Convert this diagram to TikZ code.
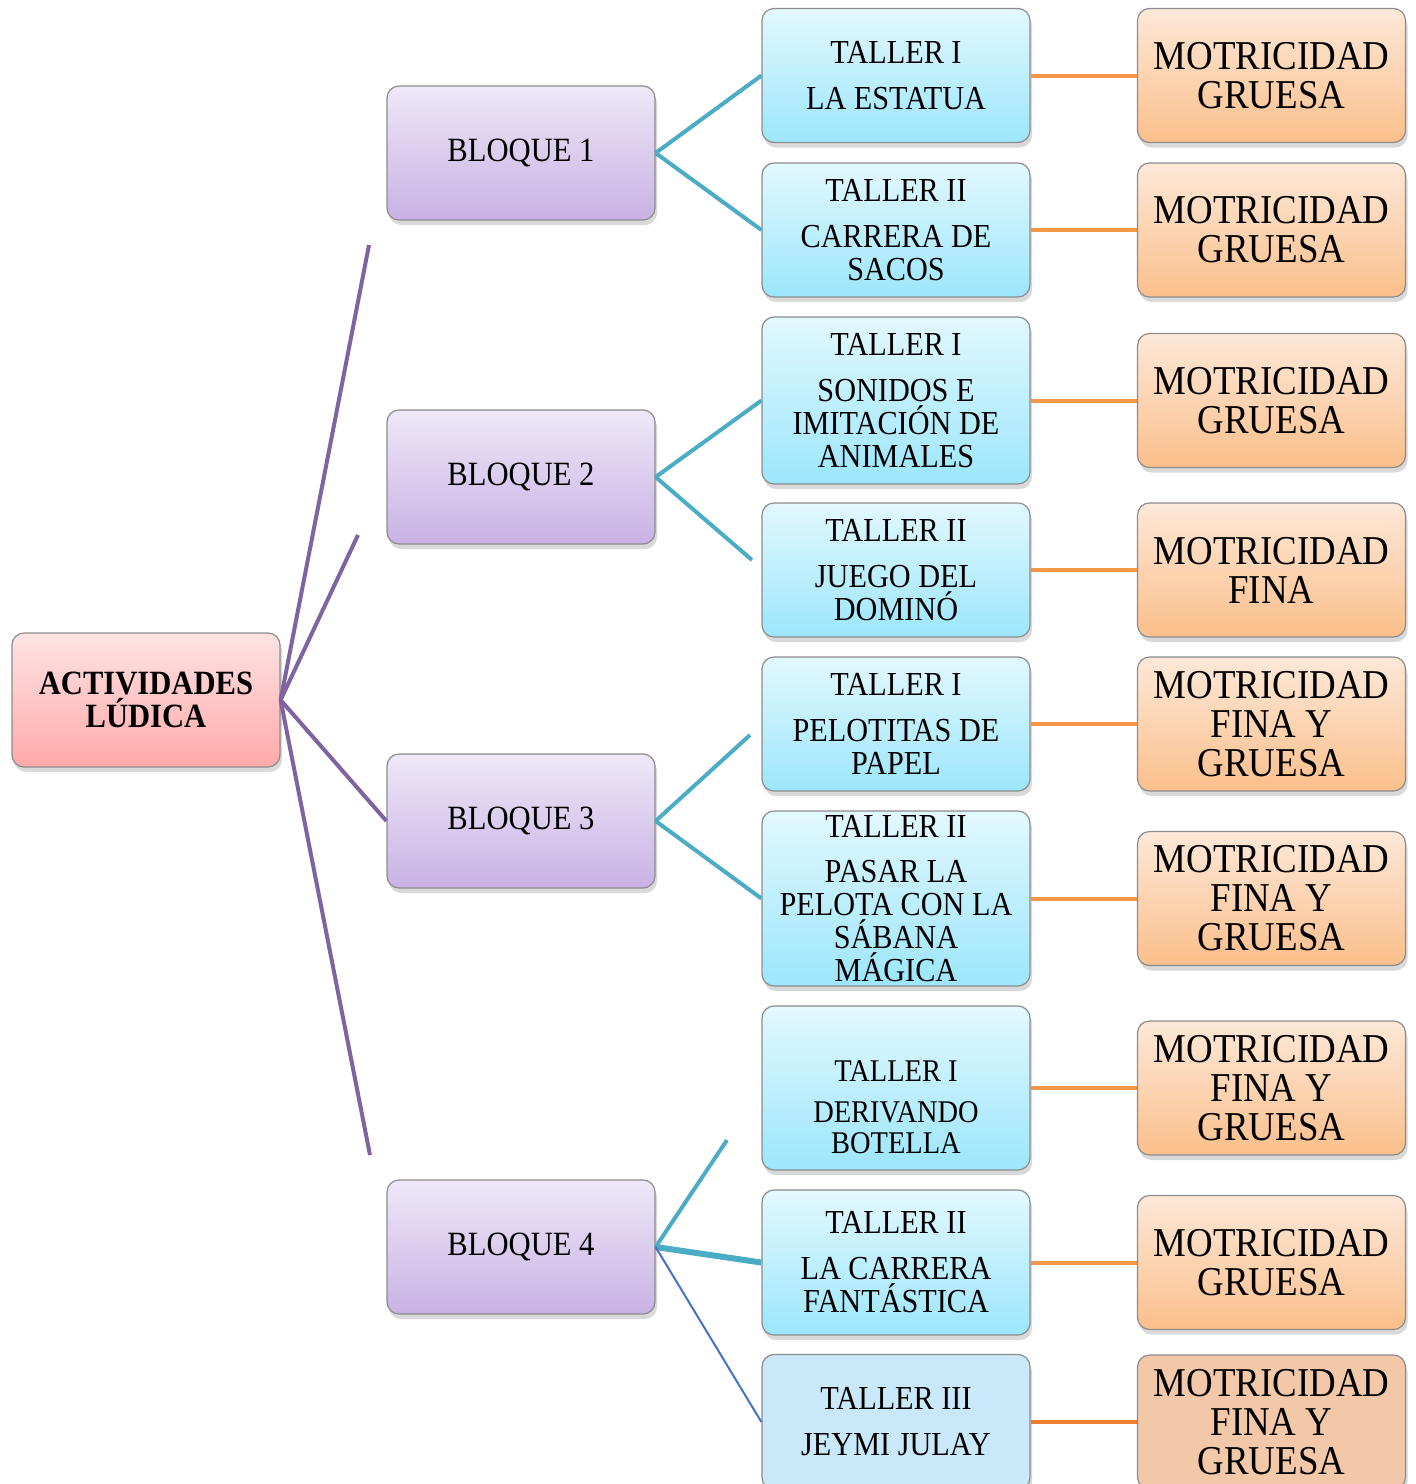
\documentclass[tikz,border=0pt]{standalone}
\usepackage{fontspec}
\setmainfont[FakeStretch=0.9]{Liberation Serif}
\usetikzlibrary{shadows}

\definecolor{raizA}{HTML}{FFE3E3}
\definecolor{raizB}{HTML}{FFA9A9}
\definecolor{bloqA}{HTML}{EEE8F8}
\definecolor{bloqB}{HTML}{C8B2E4}
\definecolor{tallA}{HTML}{E2F8FE}
\definecolor{tallB}{HTML}{9CE6FC}
\definecolor{tallC}{HTML}{C9E9FB}
\definecolor{motrA}{HTML}{FDE8D8}
\definecolor{motrB}{HTML}{FBBF8B}
\definecolor{motrC}{HTML}{F3C8A8}
\definecolor{lila}{HTML}{8064A2}
\definecolor{turq}{HTML}{4BACC6}
\definecolor{naranja}{HTML}{F79646}
\definecolor{naranjaB}{HTML}{ED7D31}
\definecolor{azul}{HTML}{4472C4}

\begin{document}
\begin{tikzpicture}[x=0.5pt, y=-0.5pt,
    caja/.style={draw=black!45, line width=0.6pt, rounded corners=6pt,
      minimum width=134pt, minimum height=67pt, inner sep=0pt, align=center,
      drop shadow={shadow xshift=1pt, shadow yshift=-2.5pt, opacity=0.3}},
    raiz/.style={caja, top color=raizA, bottom color=raizB,
      font=\fontsize{17}{16.5}\selectfont\bfseries},
    bloque/.style={caja, top color=bloqA, bottom color=bloqB,
      font=\fontsize{17}{16.5}\selectfont},
    taller/.style={caja, top color=tallA, bottom color=tallB,
      font=\fontsize{16.8}{16.5}\selectfont},
    motriz/.style={caja, top color=motrA, bottom color=motrB,
      font=\fontsize{20.5}{19.5}\selectfont},
    rama/.style={draw=lila, line width=2pt},
    hoja/.style={draw=turq, line width=2pt},
    enlace/.style={draw=naranja, line width=2pt}]
  \useasboundingbox (0,0) rectangle (1416,1484);

  \node[raiz] (raiz) at (146,700) {ACTIVIDADES\\LÚDICA};

  \node[bloque] (b1) at (521,153) {BLOQUE 1};
  \node[bloque] (b2) at (521,477) {BLOQUE 2};
  \node[bloque] (b3) at (521,821) {BLOQUE 3};
  \node[bloque] (b4) at (521,1247) {BLOQUE 4};

  \node[taller] (t1) at (896,75.5) {TALLER I\\[6.5pt]LA ESTATUA};
  \node[taller] (t2) at (896,230) {TALLER II\\[6.5pt]CARRERA DE\\SACOS};
  \node[taller, minimum height=83.5pt] (t3) at (896,400.5)
    {TALLER I\\[6.5pt]SONIDOS E\\IMITACIÓN DE\\ANIMALES};
  \node[taller] (t4) at (896,570) {TALLER II\\[6.5pt]JUEGO DEL\\DOMINÓ};
  \node[taller] (t5) at (896,724) {TALLER I\\[6.5pt]PELOTITAS DE\\PAPEL};
  \node[taller, minimum height=87.5pt] (t6) at (896,898.5)
    {TALLER II\\[6pt]PASAR LA\\PELOTA CON LA\\SÁBANA\\MÁGICA};
  \node[taller, minimum height=82pt, font=\fontsize{15.8}{15.5}\selectfont] (t7) at (896,1088)
    {\rule{0pt}{30pt}TALLER I\\[5pt]DERIVANDO\\BOTELLA};
  \node[taller, minimum height=72.5pt] (t8) at (896,1262.5)
    {TALLER II\\[6.5pt]LA CARRERA\\FANTÁSTICA};
  \node[taller, top color=tallC, bottom color=tallC, minimum height=67.5pt] (t9) at (896,1422)
    {TALLER III\\[6.5pt]JEYMI JULAY};

  \node[motriz] (m1) at (1271.5,75.5) {MOTRICIDAD\\GRUESA};
  \node[motriz] (m2) at (1271.5,230) {MOTRICIDAD\\GRUESA};
  \node[motriz] (m3) at (1271.5,400.5) {MOTRICIDAD\\GRUESA};
  \node[motriz] (m4) at (1271.5,570) {MOTRICIDAD\\FINA};
  \node[motriz] (m5) at (1271.5,724) {MOTRICIDAD\\FINA Y\\GRUESA};
  \node[motriz] (m6) at (1271.5,898.5) {MOTRICIDAD\\FINA Y\\GRUESA};
  \node[motriz] (m7) at (1271.5,1088) {MOTRICIDAD\\FINA Y\\GRUESA};
  \node[motriz] (m8) at (1271.5,1262.5) {MOTRICIDAD\\GRUESA};
  \node[motriz, top color=motrC, bottom color=motrC] (m9) at (1271.5,1422)
    {MOTRICIDAD\\FINA Y\\GRUESA};

  \coordinate (p1) at (369,245);
  \coordinate (p2) at (358,535);
  \coordinate (p4) at (370,1155);
  \coordinate (q4) at (752,560);
  \coordinate (q5) at (750,735);
  \coordinate (q7) at (727,1140);

  \draw[rama] (raiz.east) -- (p1);
  \draw[rama] (raiz.east) -- (p2);
  \draw[rama] (raiz.east) -- (b3.west);
  \draw[rama] (raiz.east) -- (p4);

  \draw[hoja] (b1.east) -- (t1.west);
  \draw[hoja] (b1.east) -- (t2.west);
  \draw[hoja] (b2.east) -- (t3.west);
  \draw[hoja] (b2.east) -- (q4);
  \draw[hoja] (b3.east) -- (q5);
  \draw[hoja] (b3.east) -- (t6.west);
  \draw[hoja] (b4.east) -- (q7);
  \draw[hoja, line width=3pt] (b4.east) -- (t8.west);
  \draw[draw=azul, line width=1pt] (b4.east) -- (t9.west);

  \foreach \i in {1,...,8}
    \draw[enlace] (t\i.east) -- (m\i.west);
  \draw[enlace, draw=naranjaB] (t9.east) -- (m9.west);
\end{tikzpicture}
\end{document}
